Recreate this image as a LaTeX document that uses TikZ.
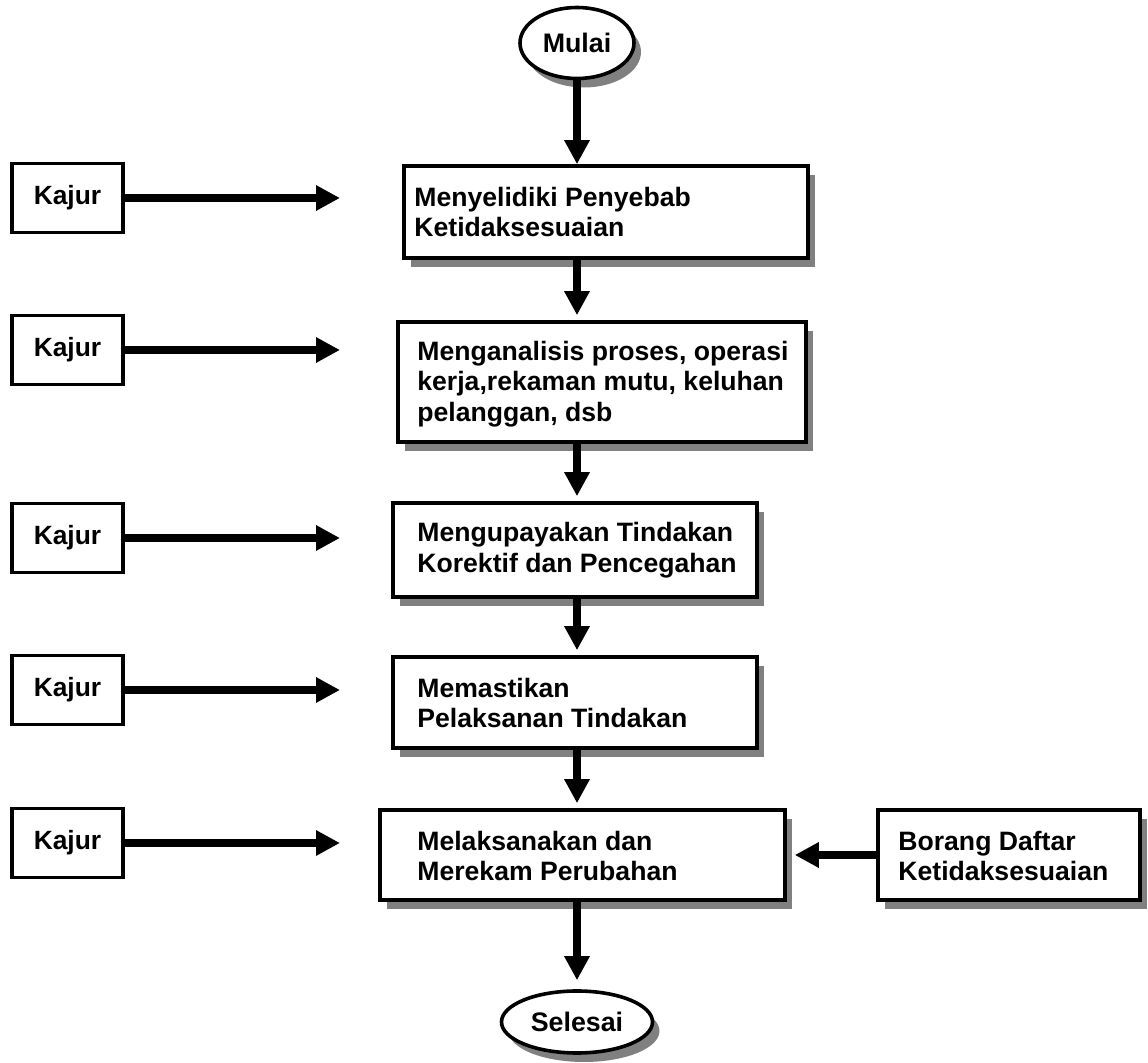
\documentclass[tikz,border=0pt]{standalone}
\usepackage{fontspec}
\setmainfont{Liberation Sans}
\usetikzlibrary{positioning,arrows.meta,shapes,shadows,calc}

\tikzset{
    bayang/.style={drop shadow={shadow xshift=3.5pt, shadow yshift=-4.5pt, fill=gray, opacity=1}},
    prosesbox/.style={draw, line width=1.8pt, fill=white, inner sep=0pt, bayang},
    kajurbox/.style={draw, line width=1.6pt, fill=white, inner sep=0pt,
        minimum width=55.5pt, minimum height=34.5pt, font=\bfseries\fontsize{13.2}{15.3}\selectfont},
    terminal/.style={ellipse, draw, line width=1.8pt, fill=white, inner sep=0pt,
        font=\bfseries\fontsize{13.4}{15.3}\selectfont, bayang},
    teks/.style={anchor=west, align=left, inner sep=0pt, font=\bfseries\fontsize{13.3}{15.3}\selectfont},
    alur/.style={line width=4pt, -{Triangle[length=12pt,width=12pt]}}
}

\begin{document}
\begin{tikzpicture}[x=0.5pt, y=-0.5pt]
    \useasboundingbox (0,0) rectangle (1148,1063);

    % Start and end
    \node[terminal, minimum width=57pt, minimum height=35.5pt] (mulai) at (577,43) {Mulai};
    \node[terminal, minimum width=75.5pt, minimum height=31pt] (selesai) at (577,1022) {Selesai};

    % Process boxes
    \node[prosesbox, minimum width=202pt, minimum height=46pt] (p1) at (606,212) {};
    \node[prosesbox, minimum width=204pt, minimum height=60pt] (p2) at (602,382) {};
    \node[prosesbox, minimum width=182pt, minimum height=47pt] (p3) at (575,550) {};
    \node[prosesbox, minimum width=182pt, minimum height=45.5pt] (p4) at (575,702.5) {};
    \node[prosesbox, minimum width=202.5pt, minimum height=45pt] (p5) at (582.5,855) {};
    \node[prosesbox, minimum width=131pt, minimum height=45pt] (bor) at (1009,855) {};

    % Box texts
    \node[teks] (t1) at (414,212) {Menyelidiki Penyebab\\Ketidaksesuaian};
    \node[teks] (t2) at (417,384) {Menganalisis proses, operasi\\kerja,rekaman mutu, keluhan\\pelanggan, dsb};
    \node[teks] (t3) at (417,550) {Mengupayakan Tindakan\\Korektif dan Pencegahan};
    \node[teks] (t4) at (417,703) {Memastikan\\Pelaksanan Tindakan};
    \node[teks] (t5) at (417,856) {Melaksanakan dan\\Merekam Perubahan};
    \node[teks] (tb) at (898,856) {Borang Daftar\\Ketidaksesuaian};

    % Kajur boxes with arrows
    \coordinate (ujung) at (340,0);
    \foreach \i/\y in {1/198,2/350,3/538,4/690,5/843} {
        \node[kajurbox] (k\i) at (67.5,\y) {Kajur};
        \draw[alur] (k\i.east) -- (k\i.east -| ujung);
    }

    % Main flow
    \draw[alur] (mulai.south) -- (p1.north -| mulai);
    \draw[alur, shorten >=2.5pt] (p1.south -| mulai) -- (p2.north -| mulai);
    \draw[alur, shorten >=2.5pt] (p2.south -| mulai) -- (p3.north -| mulai);
    \draw[alur, shorten >=2.5pt] (p3.south -| mulai) -- (p4.north -| mulai);
    \draw[alur, shorten >=2.5pt] (p4.south -| mulai) -- (p5.north -| mulai);
    \draw[alur, shorten >=4.5pt] (p5.south -| mulai) -- (selesai.north);

    % Form input
    \draw[alur, shorten >=4pt] (bor.west) -- (p5.east);
\end{tikzpicture}
\end{document}
